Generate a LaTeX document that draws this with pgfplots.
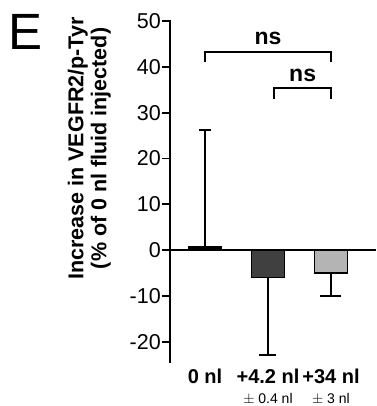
\documentclass[border=0pt]{standalone}
\usepackage{fontspec}
\setmainfont{Liberation Sans}
\usepackage{pgfplots}
\pgfplotsset{compat=1.18}
\definecolor{darkbar}{HTML}{404040}
\definecolor{lightbar}{HTML}{B4B4B4}
\begin{document}
\begin{tikzpicture}
\begin{axis}[
  scale only axis, width=206pt, height=343.5pt,
  xmin=-0.556, xmax=2.714, ymin=-24.7, ymax=50.3,
  axis y line=left, axis x line=bottom,
  x axis line style={draw=none},
  y axis line style={-, line width=1.8pt},
  xtick={0,1,2},
  xticklabels={{\bfseries 0 nl},
               {\bfseries +4.2 nl\\\fontsize{14}{19.5}\selectfont\mdseries $\pm$ 0.4 nl},
               {\bfseries +34 nl\\\fontsize{14}{19.5}\selectfont\mdseries $\pm$ 3 nl}},
  xticklabel style={align=center, inner sep=1pt, yshift=3pt, font=\fontsize{20}{19.5}\selectfont},
  major x tick style={draw=none},
  ytick={-20,-10,...,50},
  tick align=outside, major tick length=8pt,
  major y tick style={line width=1.8pt, black},
  yticklabel style={font=\fontsize{21.5}{21.5}\selectfont, inner sep=1pt},
  /pgf/number format/assume math mode=true,
  ylabel={Increase in VEGFR2/p-Tyr\\(\% of 0 nl fluid injected)},
  ylabel style={align=center, font=\bfseries\fontsize{21.5}{23}\selectfont,
    at={(rel axis cs:0,0.625)}, anchor=south, yshift=59pt, inner sep=0pt},
  clip=false,
]
\addplot[ybar, bar width=33pt, fill=black, draw=black, line width=1.5pt,
  error bars/.cd, y dir=plus, y explicit,
  error bar style={line width=1.7pt, black},
  error mark options={rotate=90, mark size=6pt, line width=1.7pt, black}]
  coordinates {(0,0.7) +- (0,25.5)};
\addplot[ybar, bar width=33pt, fill=darkbar, draw=black, line width=1.5pt,
  error bars/.cd, y dir=minus, y explicit,
  error bar style={line width=1.7pt, black},
  error mark options={rotate=90, mark size=8.5pt, line width=1.7pt, black}]
  coordinates {(1,-6) +- (0,17)};
\addplot[ybar, bar width=33pt, fill=lightbar, draw=black, line width=1.5pt,
  error bars/.cd, y dir=minus, y explicit,
  error bar style={line width=1.7pt, black},
  error mark options={rotate=90, mark size=10.5pt, line width=1.7pt, black}]
  coordinates {(2,-5) +- (0,5)};
\draw[line width=1.8pt] (axis cs:-0.556,0) -- (axis cs:2.714,0);
\draw[line width=1.8pt] (axis cs:0,41.0) -- (axis cs:0,43.2) -- (axis cs:2,43.2) -- (axis cs:2,41.0);
\draw[line width=1.8pt] (axis cs:1.1,33.0) -- (axis cs:1.1,35.4) -- (axis cs:2,35.4) -- (axis cs:2,33.0);
\node[anchor=base, font=\bfseries\fontsize{23}{23}\selectfont, inner sep=0pt] at (axis cs:1,44.8) {ns};
\node[anchor=base, font=\bfseries\fontsize{23}{23}\selectfont, inner sep=0pt] at (axis cs:1.55,36.9) {ns};
\node[anchor=base west, font=\fontsize{51}{51}\selectfont, inner sep=0pt] at (axis cs:-3.13,43.7) {E};
\path (axis cs:-3.254,54.59) -- (axis cs:2.714,-34.06);
\end{axis}
\end{tikzpicture}
\end{document}
